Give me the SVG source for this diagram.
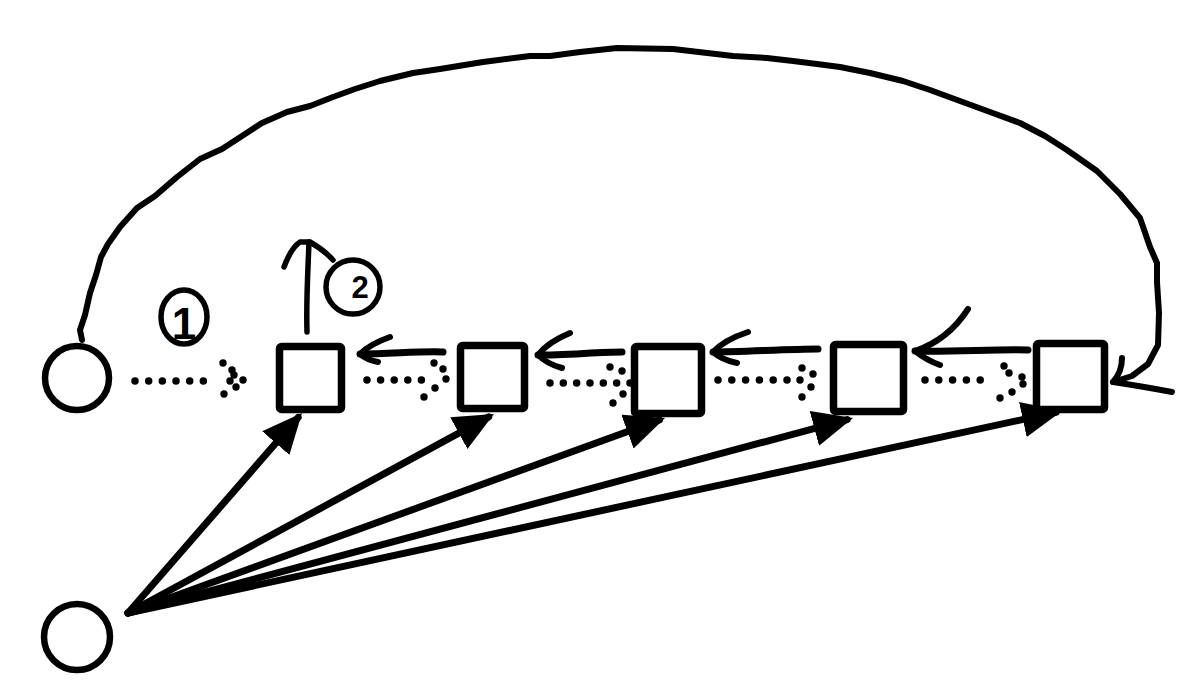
<svg xmlns="http://www.w3.org/2000/svg" width="1196" height="690" viewBox="0 0 1196 690">
<style>
.ln{fill:none;stroke:#000;stroke-linecap:round;stroke-linejoin:round}
.box{fill:#fff;stroke:#000;stroke-width:7.5;stroke-linejoin:round}
.circ{fill:#fff;stroke:#000;stroke-width:6.5}
.dots{fill:none;stroke:#000;stroke-width:7.5;stroke-linecap:round}
.dot{fill:#000}
.num{font-family:"Liberation Sans",Arial,sans-serif;fill:#000;text-anchor:middle;font-weight:bold}
</style>
<defs>
<marker id="tri" viewBox="0 0 40 36" refX="34" refY="18" markerWidth="40" markerHeight="36" markerUnits="userSpaceOnUse" orient="auto">
<path d="M0,0 L40,18 L0,36 Z" fill="#000"/>
</marker>
</defs>
<rect width="1196" height="690" fill="#fff"/>

<g id="nodes">
<g id="src-top"><circle class="circ" cx="77" cy="378" r="32"/></g>
<g id="src-bottom"><circle class="circ" cx="77" cy="637" r="33"/></g>
<g id="box1"><rect class="box" x="279.5" y="346.5" width="62" height="63" rx="2"/></g>
<g id="box2"><rect class="box" x="460.5" y="345.5" width="64" height="63" rx="2"/></g>
<g id="box3"><rect class="box" x="634.5" y="346.5" width="67" height="67" rx="2"/></g>
<g id="box4"><rect class="box" x="833.5" y="344.5" width="70" height="67" rx="2"/></g>
<g id="box5"><rect class="box" x="1036.5" y="343.5" width="68" height="66" rx="2"/></g>
<g id="label1">
<ellipse class="ln" cx="184" cy="317" rx="23" ry="27" stroke-width="5.5"/>
<text class="num" x="184" y="339" font-size="44">1</text>
</g>
<g id="label2">
<circle class="ln" cx="353" cy="287" r="27" stroke-width="5.5"/>
<text class="num" x="360" y="298" font-size="31">2</text>
</g>
</g>

<g id="connectors">
<path class="ln" stroke-width="6" d="M82,340 L80,330 L85,315 L90,293 L96,275 L101,257 L108,244 L120,227 L137,208 L155,196 L177,177 L200,159 L222,149 L242,136 L262,123 L287,112 L310,106 L333,97 L355,89 L380,81 L413,73 L440,69 L483,62 L530,56 L550,56 L580,52 L617,48 L673,49 L733,56 L767,58 L793,61 L817,64 L840,67 L870,73 L903,81 L930,90 L960,101 L990,112 L1020,123 L1045,136 L1067,150 L1097,171 L1120,194 L1140,218 L1150,247 L1157,263 L1157,282 L1159,313 L1158,345 L1148,364 L1132,376 L1113,382"/>
<path class="ln" stroke-width="6" d="M1122,358 Q1122,372 1113,382 Q1140,386 1172,392"/>

<path class="ln" stroke-width="5.5" d="M307,332 C306,300 308,270 309,242"/>
<path class="ln" stroke-width="5.5" d="M284,267 Q291,248 300,242 L310,242 Q324,250 333,260"/>

<path class="ln" stroke-width="7" d="M443,352 C420,351 390,354 360,354"/>
<path class="ln" stroke-width="6" d="M390,337 Q370,344 360,354 Q367,360 378,362"/>
<path class="ln" stroke-width="7" d="M622,352 C600,352 565,355 538,355"/>
<path class="ln" stroke-width="6" d="M570,333 Q548,342 538,355 Q547,364 562,368"/>
<path class="ln" stroke-width="7" d="M818,349 C790,349 740,352 713,352"/>
<path class="ln" stroke-width="6" d="M748,332 Q724,340 713,352 Q722,360 737,363"/>
<path class="ln" stroke-width="7" d="M1028,350 C1000,349 950,352 915,351"/>
<path class="ln" stroke-width="6" d="M968,309 Q948,340 915,351 Q926,360 940,365"/>

<path class="dots" stroke-dasharray="0 13.67" d="M135,381 H217"/>
<g class="dot">
<circle cx="223" cy="363" r="3.7"/><circle cx="232" cy="370" r="3.7"/><circle cx="234" cy="375" r="3.7"/><circle cx="243" cy="380" r="3.7"/><circle cx="230" cy="381" r="3.7"/><circle cx="236" cy="387" r="3.7"/><circle cx="224" cy="394" r="3.7"/>
</g>
<path class="dots" stroke-dasharray="0 13.6" d="M367,380 H435"/>
<g class="dot">
<circle cx="434" cy="363" r="3.7"/><circle cx="443" cy="369" r="3.7"/><circle cx="446" cy="379" r="3.7"/><circle cx="435" cy="388" r="3.7"/><circle cx="424" cy="397" r="3.7"/>
</g>
<path class="dots" stroke-dasharray="0 13.33" d="M550,383 H630"/>
<g class="dot">
<circle cx="610" cy="367" r="3.7"/><circle cx="622" cy="371" r="3.7"/><circle cx="623" cy="394" r="3.7"/><circle cx="613" cy="403" r="3.7"/>
</g>
<path class="dots" stroke-dasharray="0 13.8" d="M718,380 H787"/>
<g class="dot">
<circle cx="802" cy="368" r="3.7"/><circle cx="813" cy="374" r="3.7"/><circle cx="800" cy="380" r="3.7"/><circle cx="811" cy="387" r="3.7"/><circle cx="802" cy="397" r="3.7"/>
</g>
<path class="dots" stroke-dasharray="0 13.8" d="M925,380 H994"/>
<g class="dot">
<circle cx="1004" cy="366" r="3.7"/><circle cx="1009" cy="373" r="3.7"/><circle cx="1022" cy="377" r="3.7"/><circle cx="1023" cy="384" r="3.7"/><circle cx="1012" cy="392" r="3.7"/><circle cx="1000" cy="398" r="3.7"/>
</g>

<path class="ln" stroke-width="7" marker-end="url(#tri)" d="M128,613 L298.1,417.5"/>
<path class="ln" stroke-width="7" marker-end="url(#tri)" d="M128,613 L488.7,416.9"/>
<path class="ln" stroke-width="7" marker-end="url(#tri)" d="M128,613 L659.4,420"/>
<path class="ln" stroke-width="7" marker-end="url(#tri)" d="M128,613 L847.2,419.6"/>
<path class="ln" stroke-width="7" marker-end="url(#tri)" d="M128,613 L1056.1,412.3"/>
</g>
</svg>
